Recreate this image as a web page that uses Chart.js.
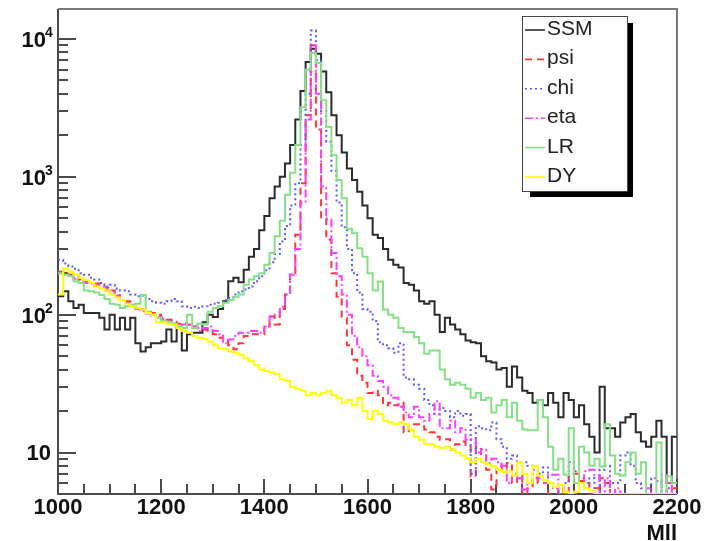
<!DOCTYPE html>
<html>
<head>
<meta charset="utf-8">
<script src="https://cdn.jsdelivr.net/npm/chart.js@4.4.0/dist/chart.umd.min.js"></script>
<style>
html, body { margin: 0; padding: 0; background: #fff; }
canvas { display: block; }
</style>
</head>
<body>
<canvas id="c" width="706" height="541"></canvas>
<script>
// histogram binning (Mll, GeV)
var massStart = 1000;
var binWidth = 10;

var xTickValues = [1000, 1200, 1400, 1600, 1800, 2000, 2200];
var yTickValues = [10, 100, 1000, 10000];
var yTickExponents = ['', '2', '3', '4'];

// entries per bin (floor of the log axis = 5)
var ssm = [136,148,125,112,118,103,103,103,95,78,
  100,78,95,78,95,62,54,58,62,62,
  64,78,64,80,55,72,74,74,88,100,
  96,110,125,175,185,172,212,263,300,410,
  520,700,850,1000,1250,1700,2600,4200,6800,8500,
  7800,5800,4100,2800,2000,1500,1150,950,780,620,
  500,380,360,300,250,230,220,170,165,150,
  125,120,125,100,75,95,85,78,72,65,
  63,62,50,46,45,40,41,30,42,35,
  28,27,23,24,22,27,23,18,27,24,
  18,22,16,13,10,30,15,15,13,16.5,
  18,19,14,12,11,13,17,13,6,13];

var psi = [205,198,195,190,180,174,170,168,165,157,
  150,139,129,125,118,112,109,105,103,100,
  95,92,89,86,87,85,82,80,78,74,
  72,68,64,60,56,62,70,72,72,72,
  82,97,85,110,140,200,380,900,2800,9000,
  2200,500,350,200,135,95,60,47,36,32,
  27,28,26,22,23,22,23,14,16,16,
  15.5,14.7,14,13,12.4,12.5,10.5,11.5,12,11,
  6.7,11,9.5,7.5,5.4,8,7.5,8.4,6,6.8,
  5,5.5,6.5,6,6,5,5,5.5,5,6.7,
  7,6.2,6,5,5.5,6.5,6,5,5,5,
  5,5,5,5,5,5,5,5,6,5.5];

var chi = [250,235,224,215,200,195,185,180,170,160,
  165,155,150,148,140,136,138,130,125,122,
  120,125,130,125,115,112,114,112,115,118,
  120,122,128,132,140,148,152,160,175,190,
  210,240,275,340,440,620,900,1700,4000,11500,
  7000,3000,1800,1100,650,430,300,200,145,110,
  105,90,63,60,57,53,62,35,34,31,
  29,24,22,19,21,20,18,20,18.5,19,
  7,15.5,15,14.5,16.5,12.5,11,9,9.5,8.5,
  8.5,8,7.5,7,7.8,6,5.5,5,6,8.5,
  7.3,6.5,6,6.5,5,7.5,8,6,6,9.5,
  10,8,6,5.5,5,6.5,6.2,5,5.5,5];

var eta = [200,195,190,182,176,170,168,162,158,150,
  145,137,127,122,115,110,106,102,98,96,
  93,90,86,82,85,84,82,76,80,82,
  76,72,62,66,70,74,74,76,76,74,
  82,97,100,114,140,195,300,650,2600,9000,
  4000,850,490,280,190,140,100,70,58,50,
  43,36,33,30,26,25,21.5,19.5,18,21.5,
  18,17,19,23.5,15,15,17,14,15,12.4,
  12.5,10,10.5,8.4,9,8.5,8,6,7,6.5,
  5.4,6,7,6.5,6,6.9,6.9,5,5,5,
  5,6,7.3,7.5,6.8,5,6.5,5,5.5,5,
  5,5,5,5,5.5,5,5,6.9,6,5];

var lr = [200,195,190,175,170,150,148,145,139,130,
  120,118,112,115,118,120,139,105,100,95,
  90,88,86,82,80,100,80,86,85,105,
  112,115,122,128,135,140,165,180,190,200,
  230,280,370,480,740,1070,1700,3200,6000,7900,
  6700,3600,2300,1440,950,700,420,390,303,263,
  200,150,174,109,100,95,80,75,75,69,
  62,52,55,55,40,34,31,32,31,29,
  25,27,24,25,19.5,22,24,18,23,17,
  14.7,14.5,14.5,24,18,11,7.5,9,6.9,15,
  6,11,10,8,9,7.9,16,9.5,7,6.8,
  8.5,10,7,8.5,5,5,11.8,5,6.7,6];

var dy = [140,215,205,195,185,178,170,160,155,148,
  140,133,128,120,115,112,109,103,100,88,
  88,86,84,80,76,74,70,68,67,64,
  60,57,56,54,53,51,48,46,43,40,
  39,38,37,34,33,30,29,28,26,27,
  26,27,28,26,25,23,24,22,25,20,
  17.5,20,19,17,16.5,16,16.5,16,14.7,13,
  12.4,11.5,11.5,11,10.8,11,10.5,10,9.5,9,
  8.5,9,8.5,8.2,7.9,7.5,7.2,7.3,6.8,8.5,
  7,6,8,6.8,6.3,6,5.6,5.8,5.2,5,
  5.2,6,5.5,5.3,5,5,5,5,5,5,
  5,5,5,5,5,5,5,5,5,5];

function toSteps(vals)
{
    var pts = vals.map(function(v, i) {
        return { x: massStart + i * binWidth, y: v };
    });
    pts.push({ x: massStart + vals.length * binWidth, y: vals[vals.length - 1] });
    return pts;
}

function hist(label, vals, color, dash, order)
{
    return {
        label: label,
        data: toSteps(vals),
        borderColor: color,
        borderWidth: 2,
        borderDash: dash,
        stepped: true,
        pointRadius: 0,
        fill: false,
        order: order
    };
}

var rootFrame = {
    id: 'rootFrame',
    beforeDatasetsDraw: function(chart)
    {
        var ctx = chart.ctx, a = chart.chartArea;
        var xs = chart.scales.x, ys = chart.scales.y;
        ctx.save();
        ctx.lineWidth = 2;
        ctx.strokeStyle = '#7a7a7a';
        ctx.beginPath();
        ctx.moveTo(a.left, a.top);
        ctx.lineTo(a.right, a.top);
        ctx.lineTo(a.right, a.bottom);
        ctx.stroke();

        ctx.strokeStyle = '#4a4a4a';
        ctx.beginPath();
        ctx.moveTo(a.left, a.top);
        ctx.lineTo(a.left, a.bottom);
        ctx.lineTo(a.right, a.bottom);
        // y ticks, inside the frame
        [1, 10, 100, 1000, 10000].forEach(function(d) {
            for (var m = 1; m <= 9; m++) {
                var v = d * m;
                if (v <= ys.min || v > ys.max) continue;
                var y = Math.round(ys.getPixelForValue(v));
                ctx.moveTo(a.left, y);
                ctx.lineTo(a.left + (m === 1 ? 18 : 10), y);
            }
        });
        // x ticks
        for (var x = massStart; x <= 2200; x += 50) {
            var px = Math.round(xs.getPixelForValue(x));
            ctx.moveTo(px, a.bottom);
            ctx.lineTo(px, a.bottom - (x % 200 === 0 ? 15 : 10));
        }
        ctx.stroke();
        ctx.restore();
    },
    afterDraw: function(chart)
    {
        var ctx = chart.ctx, a = chart.chartArea;
        var xs = chart.scales.x, ys = chart.scales.y;
        var bold = 'bold 22px "Liberation Sans", Arial, sans-serif';
        ctx.save();
        ctx.fillStyle = '#111';
        ctx.font = bold;
        ctx.textBaseline = 'middle';
        ctx.textAlign = 'center';
        xTickValues.forEach(function(v) {
            ctx.fillText(String(v), xs.getPixelForValue(v), 508);
        });
        ctx.textAlign = 'right';
        ctx.textBaseline = 'alphabetic';
        ctx.fillText('Mll', 677, 540);

        yTickValues.forEach(function(v, i) {
            var y = ys.getPixelForValue(v);
            var sup = yTickExponents[i];
            ctx.font = bold;
            ctx.textBaseline = 'middle';
            ctx.textAlign = 'right';
            if (sup === '') {
                ctx.fillText('10', 51, y + 1);
            } else {
                ctx.fillText('10', 46, y + 2);
                ctx.font = 'bold 14px "Liberation Sans", Arial, sans-serif';
                ctx.textAlign = 'left';
                ctx.textBaseline = 'alphabetic';
                ctx.fillText(sup, 45, y - 2);
            }
        });

        // legend box with shadow
        ctx.fillStyle = '#000';
        ctx.fillRect(530, 23, 103, 174);
        ctx.fillStyle = '#fff';
        ctx.fillRect(522, 16, 106, 176);
        ctx.strokeStyle = '#444';
        ctx.lineWidth = 1;
        ctx.strokeRect(522.5, 16.5, 105, 175);
        chart.data.datasets.forEach(function(ds, i) {
            var base = 35 + i * 29.4;
            ctx.strokeStyle = ds.borderColor;
            ctx.lineWidth = 1.6;
            ctx.setLineDash(ds.borderDash || []);
            ctx.beginPath();
            ctx.moveTo(525, base - 5);
            ctx.lineTo(545, base - 5);
            ctx.stroke();
            ctx.setLineDash([]);
            ctx.fillStyle = '#222';
            ctx.font = '21px "Liberation Sans", Arial, sans-serif';
            ctx.textAlign = 'left';
            ctx.textBaseline = 'alphabetic';
            ctx.fillText(ds.label, 547, base);
        });
        ctx.restore();
    }
};

new Chart(document.getElementById('c'), {
    type: 'line',
    data: {
        datasets: [
            hist('SSM', ssm, '#2b2b2b', [], 6),
            hist('psi', psi, '#ff3535', [7, 5], 5),
            hist('chi', chi, '#5a5aff', [2, 3], 4),
            hist('eta', eta, '#ff3cff', [8, 3, 2, 3], 3),
            hist('LR', lr, '#86e086', [], 2),
            hist('DY', dy, '#ffff00', [], 1)
        ]
    },
    options: {
        responsive: false,
        animation: false,
        layout: { padding: { left: 58, top: 9, right: 29, bottom: 47 } },
        scales: {
            x: { type: 'linear', min: 1000, max: 2200, display: false },
            y: { type: 'logarithmic', min: 5, max: 16500, display: false }
        },
        plugins: {
            legend: { display: false },
            tooltip: { enabled: false }
        }
    },
    plugins: [rootFrame]
});
</script>
</body>
</html>
